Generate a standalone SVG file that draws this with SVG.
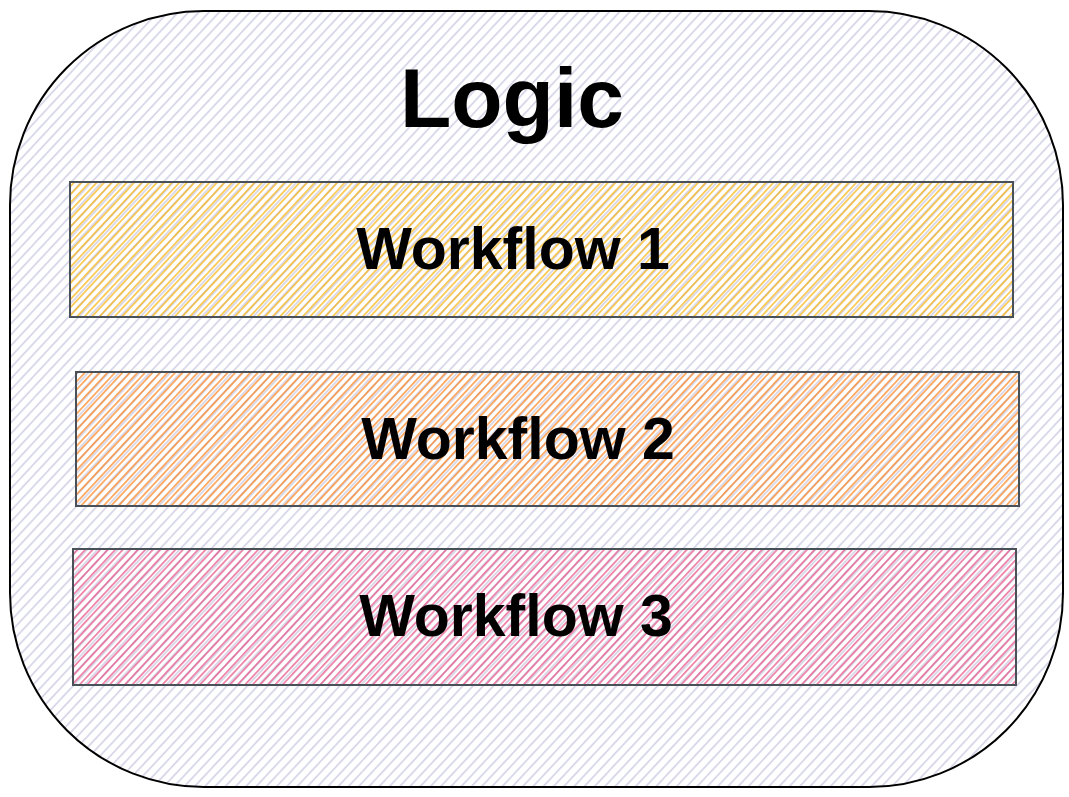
<svg xmlns="http://www.w3.org/2000/svg" width="1069" height="797" viewBox="0 0 1069 797">
<defs>
<pattern id="hLav" patternUnits="userSpaceOnUse" width="7.5" height="20" patternTransform="rotate(43)">
<line x1="3.7" y1="0" x2="3.7" y2="20" stroke="#d2d2e6" stroke-width="1.6"/>
</pattern>
<pattern id="hYel" patternUnits="userSpaceOnUse" width="5.5" height="20" patternTransform="rotate(43)">
<line x1="2.7" y1="0" x2="2.7" y2="20" stroke="#fab005" stroke-width="1.2"/>
</pattern>
<pattern id="hOra" patternUnits="userSpaceOnUse" width="5.5" height="20" patternTransform="rotate(43)">
<line x1="2.7" y1="0" x2="2.7" y2="20" stroke="#fd7e14" stroke-width="1.2"/>
</pattern>
<pattern id="hPink" patternUnits="userSpaceOnUse" width="5.5" height="20" patternTransform="rotate(43)">
<line x1="2.7" y1="0" x2="2.7" y2="20" stroke="#e64980" stroke-width="1.2"/>
</pattern>
</defs>
<style>
.outer{stroke:#000;stroke-width:2;fill:url(#hLav)}
.bar{stroke:#495057;stroke-width:2}
.t{font-family:"Liberation Sans","DejaVu Sans",sans-serif;fill:#000;text-anchor:middle;font-weight:bold}
.wf{font-size:59px}
</style>
<rect width="1069" height="797" fill="#fff"/>
<g id="logic">
<rect class="outer" x="10" y="11" width="1053" height="776" rx="194" ry="194"/>
<text class="t" x="512" y="127" font-size="84">Logic</text>
</g>
<g id="workflow1">
<rect class="bar" x="70" y="182" width="943" height="135" fill="url(#hYel)"/>
<text class="t wf" x="513" y="269">Workflow 1</text>
</g>
<g id="workflow2">
<rect class="bar" x="76" y="372" width="943" height="134" fill="url(#hOra)"/>
<text class="t wf" x="518" y="459">Workflow 2</text>
</g>
<g id="workflow3">
<rect class="bar" x="73" y="549" width="943" height="136" fill="url(#hPink)"/>
<text class="t wf" x="516" y="636">Workflow 3</text>
</g>
<g id="connectors"></g>
</svg>
